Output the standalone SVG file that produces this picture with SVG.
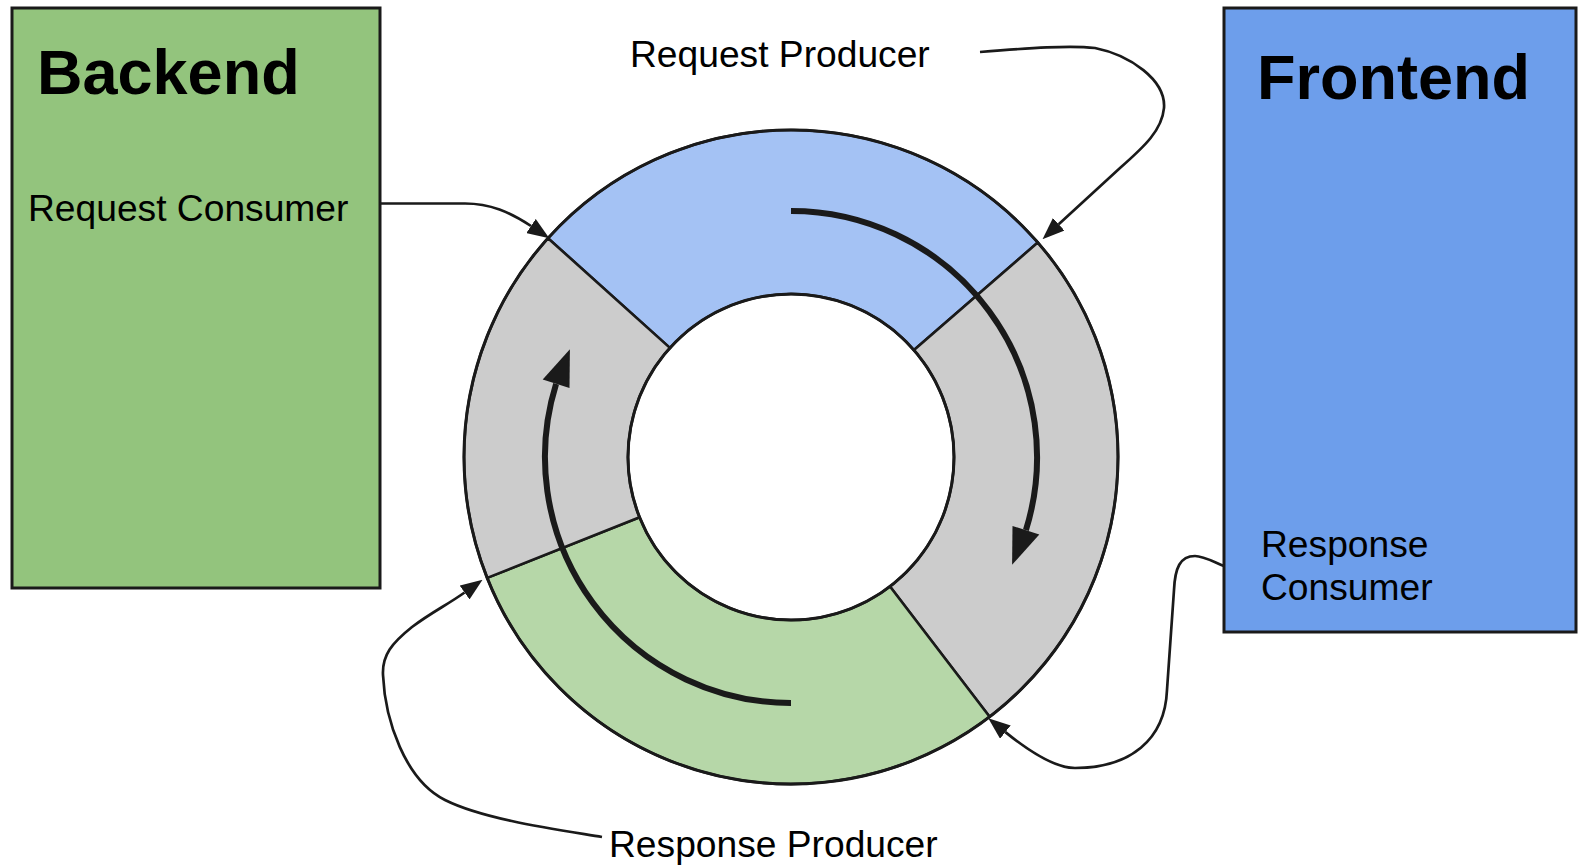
<svg xmlns="http://www.w3.org/2000/svg" width="1579" height="866" viewBox="0 0 1579 866">
  <defs>
    <style>
      .box { stroke: #1a1a1a; stroke-width: 3; }
      .seg { stroke: #1a1a1a; stroke-width: 2.6; stroke-linejoin: round; }
      .ring { fill: none; stroke: #1a1a1a; stroke-width: 3; }
      .flow { fill: none; stroke: #1a1a1a; stroke-width: 6; stroke-linecap: butt; }
      .head { fill: #1a1a1a; stroke: none; }
      .conn { fill: none; stroke: #1a1a1a; stroke-width: 2.7; marker-end: url(#arr); }
      .title { font-family: "Liberation Sans", Arial, sans-serif; font-weight: bold; font-size: 63px; fill: #000; }
      .lbl { font-family: "Liberation Sans", Arial, sans-serif; font-size: 37.2px; fill: #000; }
    </style>
    <marker id="arr" viewBox="0 0 22 17" refX="0" refY="8.5" markerWidth="22" markerHeight="17" markerUnits="userSpaceOnUse" orient="auto">
      <path d="M0,0 L22,8.5 L0,17 Z" fill="#1a1a1a"/>
    </marker>
  </defs>
  <rect width="1579" height="866" fill="#ffffff"/>

  <g id="backend">
    <rect class="box" x="12" y="8" width="368" height="580" fill="#93c47d"/>
    <text class="title" x="37" y="94">Backend</text>
    <text class="lbl" x="28" y="221">Request Consumer</text>
  </g>

  <g id="frontend">
    <rect class="box" x="1224" y="8" width="352" height="624" fill="#6d9eeb"/>
    <text class="title" x="1257" y="99">Frontend</text>
    <text class="lbl" x="1261" y="557">Response</text>
    <text class="lbl" x="1261" y="600">Consumer</text>
  </g>

  <g id="ring">
    <path id="seg-request" class="seg" fill="#a4c2f4" d="M548.0,238.2 A327,327 0 0 1 1037.8,242.5 L914.0,350.1 A163,163 0 0 0 669.9,347.9 Z"/>
    <path id="seg-right" class="seg" fill="#cccccc" d="M1037.8,242.5 A327,327 0 0 1 989.6,716.8 L890.0,586.5 A163,163 0 0 0 914.0,350.1 Z"/>
    <path id="seg-response" class="seg" fill="#b6d7a8" d="M989.6,716.8 A327,327 0 0 1 487.2,577.9 L639.6,517.3 A163,163 0 0 0 890.0,586.5 Z"/>
    <path id="seg-left" class="seg" fill="#cccccc" d="M487.2,577.9 A327,327 0 0 1 548.0,238.2 L669.9,347.9 A163,163 0 0 0 639.6,517.3 Z"/>
    <circle class="ring" cx="791" cy="457" r="327"/>
    <circle class="ring" cx="791" cy="457" r="163" fill="#ffffff"/>
    <path class="flow" d="M791,211 A246,246 0 0 1 1025.9,530.2"/>
    <polygon class="head" points="1012.1,564.8 1012.5,526.0 1039.3,534.4"/>
    <path class="flow" d="M791,703 A246,246 0 0 1 556.1,383.8"/>
    <polygon class="head" points="569.9,349.2 569.5,388.0 542.7,379.6"/>
  </g>

  <g id="request-producer">
    <text class="lbl" x="630" y="67">Request Producer</text>
  </g>
  <g id="response-producer">
    <text class="lbl" x="609" y="857">Response Producer</text>
  </g>

  <g id="connectors">
    <path class="conn" d="M379,203.5 L465,203.5 C490,203.5 510,212 531,226"/>
    <path class="conn" d="M980,52 C1030,48 1070,45 1095,48 C1130,55 1166,80 1164,108 C1162,130 1145,146 1120,168 L1058.7,224.3"/>
    <path class="conn" d="M1224,566 C1212,561 1203,556 1195,556 C1180,556 1175,568 1174,590 L1167,690 C1165,740 1130,768 1075,768 C1055,768 1030,752 1005.4,732.1"/>
    <path class="conn" d="M602,837 C560,830 485,820 445,800 C405,780 385,720 383,675 C382,655 392,643 412,627 C432,612 447,605 464.6,592.5"/>
  </g>
</svg>
